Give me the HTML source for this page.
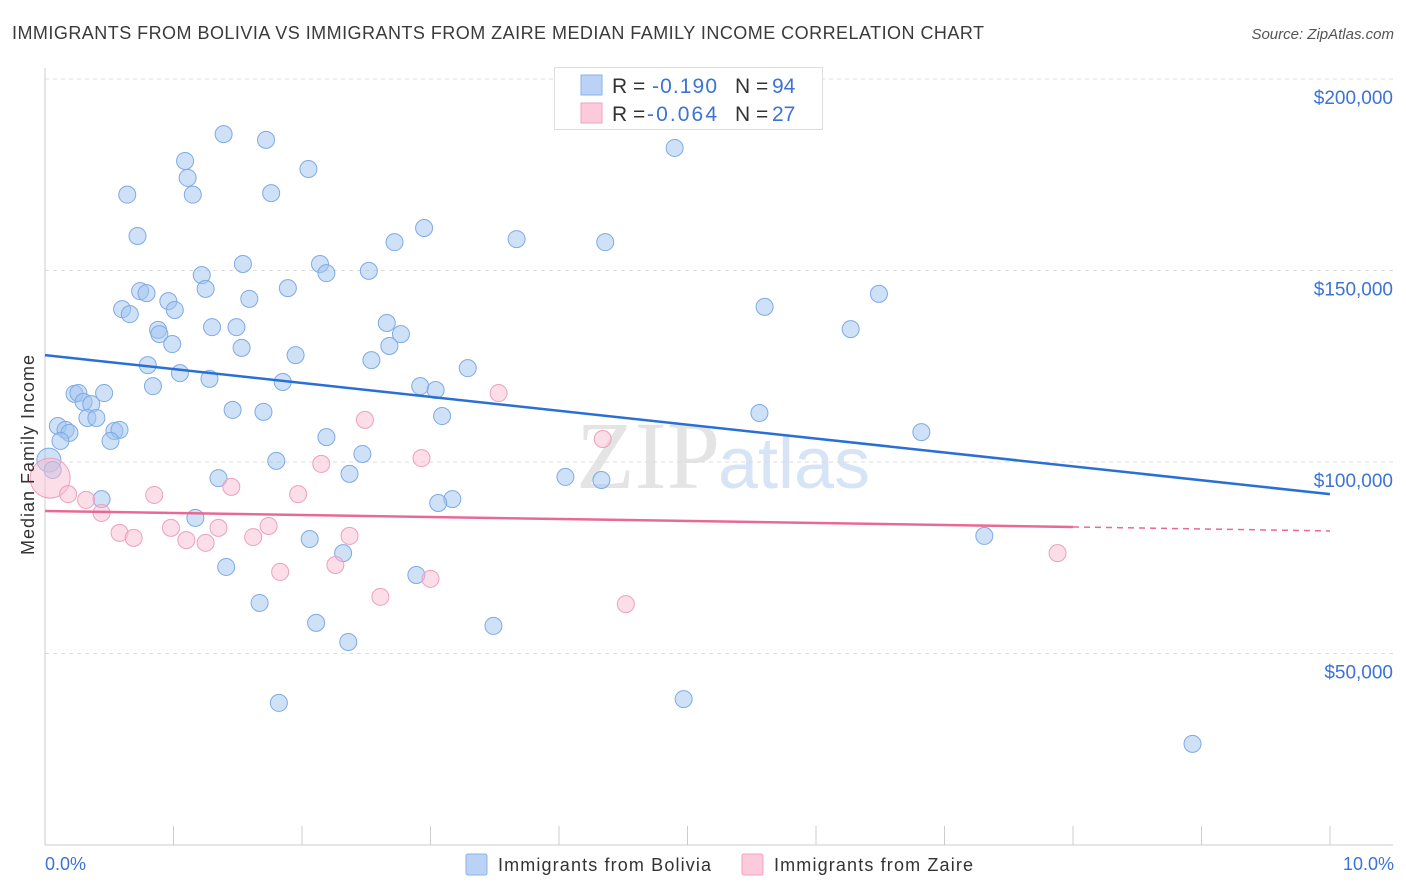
<!DOCTYPE html>
<html><head><meta charset="utf-8"><style>
body{margin:0;background:#fff;font-family:"Liberation Sans",sans-serif;}
#wrap{position:relative;width:1406px;height:892px;overflow:hidden}
</style></head><body><div id="wrap">
<svg id="svg" width="1406" height="892" xmlns="http://www.w3.org/2000/svg">
<text x="12" y="39" font-size="18" fill="#3a3a3a" textLength="972" lengthAdjust="spacing">IMMIGRANTS FROM BOLIVIA VS IMMIGRANTS FROM ZAIRE MEDIAN FAMILY INCOME CORRELATION CHART</text>
<text x="1394" y="39" font-size="15" fill="#555" font-style="italic" text-anchor="end">Source: ZipAtlas.com</text>
<text x="720" y="488" font-size="96" fill="#e4e4e4" text-anchor="end" font-family="Liberation Serif,serif">ZIP</text>
<text x="718" y="488" font-size="72" fill="#d6e4f5">atlas</text>
<g id="grid"></g><g id="axes"></g><g id="marks"></g>
<text transform="translate(34,455) rotate(-90)" font-size="18" fill="#333" text-anchor="middle" textLength="200" lengthAdjust="spacing">Median Family Income</text>
<text x="45" y="870" font-size="18" fill="#3b73d6">0.0%</text>
<text x="1394" y="870" font-size="18" fill="#3b73d6" text-anchor="end">10.0%</text>
<g>
<rect x="466" y="854" width="21" height="21" fill="#b9d2f5" stroke="#8ab4e8" rx="2"/>
<text x="498" y="871" font-size="18" fill="#333" textLength="213" lengthAdjust="spacing">Immigrants from Bolivia</text>
<rect x="742" y="854" width="21" height="21" fill="#fbcbdb" stroke="#f0a0bc" rx="2"/>
<text x="774" y="871" font-size="18" fill="#333" textLength="199" lengthAdjust="spacing">Immigrants from Zaire</text>
</g>
<g>
<rect x="554.5" y="67.5" width="268" height="62" fill="#fff" stroke="#ddd"/>
<rect x="581" y="75" width="21" height="20" fill="#b9d2f5" stroke="#8ab4e8"/>
<rect x="581" y="103" width="21" height="20" fill="#fbcbdb" stroke="#f0a0bc"/>
<g font-size="21" fill="#333">
<text x="612" y="93">R =</text><text x="652" y="93" fill="#3b73d6" textLength="65" lengthAdjust="spacing">-0.190</text>
<text x="735" y="93">N =</text><text x="772" y="93" fill="#3b73d6">94</text></g>
<g font-size="21" fill="#333">
<text x="612" y="121">R =</text><text x="647" y="121" fill="#3b73d6" textLength="70" lengthAdjust="spacing">-0.064</text>
<text x="735" y="121">N =</text><text x="772" y="121" fill="#3b73d6">27</text></g>
</g>
</svg></div>
<script>
const boliviaX=[1.39,1.72,1.09,2.05,1.11,0.64,1.15,1.76,4.90,2.95,0.72,2.72,3.67,4.36,1.54,2.14,2.52,1.22,2.19,1.25,1.89,0.74,0.79,1.59,0.96,0.60,1.01,0.66,5.60,6.49,0.88,1.30,1.49,0.89,0.99,6.27,2.66,2.77,1.53,2.68,1.95,2.54,0.80,1.05,3.29,1.28,1.85,0.84,0.23,0.26,0.46,2.92,3.04,0.30,0.36,0.33,0.40,1.46,1.70,3.09,5.56,0.10,0.16,0.19,0.54,0.58,0.12,0.51,2.19,6.82,2.47,0.03,1.80,2.37,1.35,4.05,4.33,0.44,3.17,3.06,1.17,7.31,2.06,2.32,1.41,2.89,1.67,2.11,3.49,2.36,1.82,4.97,8.93,0.06];
const boliviaY=[185.6,184.1,178.6,176.5,174.2,169.8,169.8,170.2,182.0,161.1,159.0,157.4,158.2,157.4,151.7,151.7,149.9,148.8,149.3,145.2,145.4,144.6,144.1,142.6,142.0,139.9,139.7,138.6,140.5,143.9,134.5,135.2,135.2,133.4,130.8,134.7,136.3,133.4,129.8,130.3,127.9,126.6,125.3,123.2,124.5,121.7,120.9,119.8,117.8,118.0,118.0,119.8,118.8,115.7,115.1,111.5,111.5,113.6,113.1,112.0,112.8,109.4,108.4,107.6,108.1,108.4,105.5,105.5,106.5,107.8,102.1,100.5,100.3,96.9,95.8,96.1,95.3,90.3,90.3,89.3,85.4,80.7,79.9,76.2,72.6,70.5,63.2,58.0,57.2,53.0,37.1,38.1,26.4,97.9];
const zaireX=[0.04,0.18,0.32,0.44,0.85,0.58,0.69,0.98,1.10,1.25,1.35,1.45,1.62,1.74,1.97,2.15,2.49,2.93,3.53,4.34,1.83,2.26,2.37,2.61,3.00,4.52,7.88];
const zaireY=[95.8,91.6,90.1,86.7,91.4,81.5,80.2,82.8,79.6,78.9,82.8,93.5,80.4,83.3,91.6,99.5,111.0,101.0,118.0,106.0,71.3,73.1,80.7,64.8,69.5,62.9,76.2];
const yTicks=[200,150,100,50];
const yTickLabels=["$200,000","$150,000","$100,000","$50,000"];
const boliviaTrend=[127.9,91.6];
const zaireTrend=[87.2,82.0];
const zaireSolidEnd=8.0;

const sx=v=>45+v*128.5;
const sy=v=>462-(v-100)*3.83;
const NS="http://www.w3.org/2000/svg";
function mk(tag,parent,attrs){const e=document.createElementNS(NS,tag);for(const k in attrs)e.setAttribute(k,attrs[k]);document.getElementById(parent).appendChild(e);return e;}
yTicks.forEach((t,i)=>{
 const l=mk('line','grid',{x1:45,x2:1393,y1:sy(t),y2:sy(t),stroke:'#ddd','stroke-dasharray':'4,4'});
 
 
 const tx=mk('text','grid',{x:1393,y:sy(t)+25,'font-size':19,fill:'#3b73d6','text-anchor':'end'});
 tx.textContent=yTickLabels[i];
 
 
});
let a=mk('line','axes',{x1:45,x2:45,y1:68,y2:845,stroke:'#ccc'});


a=mk('line','axes',{x1:45,x2:1393,y1:845,y2:845,stroke:'#ccc'});


for(let i=1;i<=10;i++){const t=mk('line','axes',{x1:sx(i),x2:sx(i),y1:826,y2:845,stroke:'#ccc'});
 
 }
boliviaX.forEach((x,i)=>{const c=mk('circle','marks',{cx:sx(x),cy:sy(boliviaY[i]),r:(i==71?12:8.5),fill:'rgba(160,196,240,0.5)',stroke:'#7eaae6','stroke-width':1});
 
 });
zaireX.forEach((x,i)=>{const c=mk('circle','marks',{cx:sx(x),cy:sy(zaireY[i]),r:(i==0?20:8.5),fill:'rgba(248,190,210,0.5)',stroke:'#ef9fbb','stroke-width':1});
 
 });
let tl=mk('line','marks',{x1:sx(0),y1:sy(boliviaTrend[0]),x2:sx(10),y2:sy(boliviaTrend[1]),stroke:'#2a6fd6','stroke-width':2.5});


const zy=v=>zaireTrend[0]+(zaireTrend[1]-zaireTrend[0])*v/10;
tl=mk('line','marks',{x1:sx(0),y1:sy(zy(0)),x2:sx(zaireSolidEnd),y2:sy(zy(zaireSolidEnd)),stroke:'#e86a94','stroke-width':2.5});


tl=mk('line','marks',{x1:sx(zaireSolidEnd),y1:sy(zy(zaireSolidEnd)),x2:sx(10),y2:sy(zy(10)),stroke:'#e86a94','stroke-width':1.5,'stroke-dasharray':'6,5'});


</script></body></html>
